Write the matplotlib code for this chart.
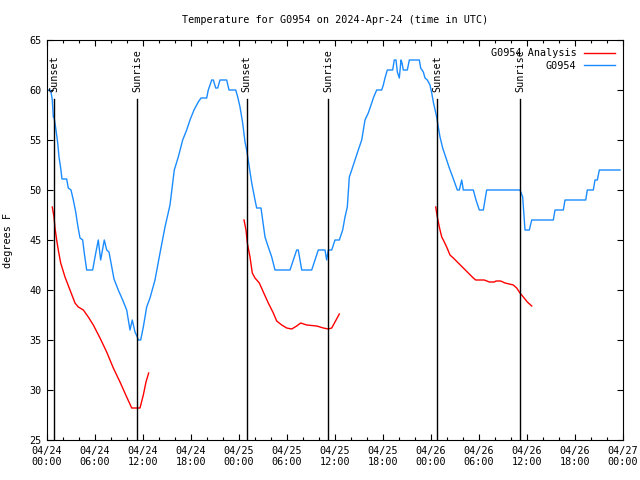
import numpy as np
import matplotlib
matplotlib.use('Agg')
import matplotlib.pyplot as plt

# hours since 2024-04-24 00:00 UTC
obs_hours = [0.0, 0.375, 0.5, 0.66, 0.79, 0.875, 1.125, 1.34, 1.5, 1.71, 1.875, 2.46, 2.66, 3.0,
             3.29, 3.59, 3.875, 4.125, 4.46, 4.66, 4.96, 5.71, 6.0, 6.41, 6.71, 7.16, 7.46, 7.75,
             8.09, 8.375, 8.91, 9.46, 9.96, 10.375, 10.66, 11.0, 11.29, 11.41, 11.71, 12.04, 12.46,
             12.875, 13.5, 14.125, 14.75, 15.375, 15.91, 16.41, 16.96, 17.46, 17.875, 18.375, 18.91,
             19.25, 19.96, 20.16, 20.59, 20.79, 21.09, 21.34, 21.625, 22.46, 22.75, 23.59, 23.84,
             24.125, 24.46, 24.75, 24.96, 25.25, 25.59, 26.0, 26.21, 26.75, 26.96, 27.25, 27.66,
             28.09, 28.5, 30.375, 30.79, 31.21, 31.41, 31.84, 33.09, 33.5, 33.91, 34.75, 34.96,
             35.16, 35.59, 36.0, 36.54, 36.96, 37.25, 37.54, 37.79, 38.09, 38.5, 38.91, 39.34,
             39.75, 40.16, 40.59, 40.79, 41.21, 41.84, 42.04, 42.25, 42.54, 43.21, 43.41, 43.625,
             43.79, 44.04, 44.25, 44.375, 44.54, 45.04, 45.29, 46.54, 46.71, 47.04, 47.25, 47.54,
             47.875, 48.09, 48.29, 48.71, 48.91, 49.125, 49.46, 49.875, 50.29, 50.71, 51.29, 51.54,
             51.84, 52.04, 53.29, 53.625, 54.04, 54.54, 54.96, 59.125, 59.46, 59.75, 60.29, 60.59,
             63.29, 63.5, 64.54, 64.75, 67.34, 67.54, 68.29, 68.5, 68.79, 69.04, 71.625]
obs_temp = [60, 60, 59.8, 59, 57.3, 57.3, 56, 54.7, 53.3, 52.2, 51.1, 51.1, 50.2, 50,
            49, 47.8, 46.3, 45.2, 45, 43.7, 42, 42, 43.3, 45, 43, 45, 44, 43.8,
            42.3, 41.1, 40, 39, 38, 36, 37, 35.8, 35.3, 35, 35, 36.3, 38.3,
            39.2, 41, 43.7, 46.3, 48.5, 52, 53.3, 55, 56, 57, 58, 58.8,
            59.2, 59.2, 60, 61, 61, 60.2, 60.2, 61, 61, 60, 60, 59.3,
            58.3, 56.7, 54.8, 54, 52.5, 50.7, 49, 48.2, 48.2, 47, 45.3, 44.3,
            43.3, 42, 42, 43, 44, 44, 42, 42, 43, 44, 44, 43,
            44, 44, 45, 45, 46, 47.3, 48.3, 51.3, 52, 53, 54, 55,
            57, 57.7, 58.7, 59.2, 60, 60, 60.5, 61.2, 62, 62, 63, 63,
            61.8, 61.2, 63, 62.7, 62, 62, 63, 63, 62.2, 61.8, 61.2, 61,
            60.5, 59.7, 58.8, 57.3, 56.3, 55.3, 54.2, 53.2, 52.2, 51.3, 50, 50,
            51, 50, 50, 49, 48, 48, 50, 50, 49.3, 46, 46, 47,
            47, 48, 48, 49, 49, 50, 50, 51, 51, 52, 52]

# analysis runs, one per night
ana_hours_1 = [0.66, 0.875, 1.0, 1.21, 1.41, 1.71, 2.25, 2.875, 3.5, 3.91, 4.54, 5.16, 5.79,
               6.625, 7.46, 8.29, 9.125, 9.96, 10.59, 11.625, 12.04, 12.375, 12.71]
ana_temp_1 = [48.3, 47.3, 46.2, 45, 44, 42.7, 41.3, 40, 38.7, 38.3, 38, 37.3, 36.5,
              35.2, 33.8, 32.2, 30.8, 29.3, 28.2, 28.2, 29.5, 30.8, 31.7]
ana_hours_2 = [24.625, 24.875, 25.04, 25.375, 25.66, 26.0, 26.54, 27.04, 27.66, 28.29, 28.71,
               29.34, 29.96, 30.59, 31.21, 31.71, 32.46, 33.71, 34.54, 35.16, 35.59, 36.0, 36.54]
ana_temp_2 = [47, 46, 44.7, 43.3, 41.7, 41.2, 40.7, 39.8, 38.7, 37.7, 36.9,
              36.5, 36.2, 36.1, 36.4, 36.7, 36.5, 36.4, 36.2, 36.1, 36.2, 36.8, 37.6]
ana_hours_3 = [48.59, 48.79, 49.04, 49.34, 49.54, 49.96, 50.375, 50.79, 51.41, 52.04, 52.66,
               53.29, 53.59, 54.66, 55.29, 55.91, 56.125, 56.71, 57.25, 57.79, 58.29, 58.71,
               59.125, 59.54, 60.04, 60.59]
ana_temp_3 = [48.3, 47.3, 46.3, 45.3, 45, 44.3, 43.5, 43.2, 42.7, 42.2, 41.7,
              41.2, 41, 41, 40.8, 40.8, 40.9, 40.9, 40.7, 40.6, 40.5, 40.2,
              39.7, 39.3, 38.8, 38.4]

sun_names = ['Sunset', 'Sunrise', 'Sunset', 'Sunrise', 'Sunset', 'Sunrise']
sun_hours = [0.91, 11.29, 24.94, 35.16, 48.79, 59.16]

tick_hours = np.arange(0, 73, 6)
tick_labels = ['04/24\n00:00', '04/24\n06:00', '04/24\n12:00', '04/24\n18:00',
               '04/25\n00:00', '04/25\n06:00', '04/25\n12:00', '04/25\n18:00',
               '04/26\n00:00', '04/26\n06:00', '04/26\n12:00', '04/26\n18:00',
               '04/27\n00:00']

plt.rcParams['font.family'] = ['DejaVu Sans Mono']
fs = 7.3

fig = plt.figure(figsize=(6.4, 4.8), dpi=100)
ax = fig.add_axes([47/640, 40/480, 576/640, 400/480])

red = '#ff0000'
blue = '#1a8cff'
ax.plot(ana_hours_1, ana_temp_1, color=red, lw=1, label='G0954 Analysis')
ax.plot(ana_hours_2, ana_temp_2, color=red, lw=1)
ax.plot(ana_hours_3, ana_temp_3, color=red, lw=1)
ax.plot(obs_hours, obs_temp, color=blue, lw=1, label='G0954')

for name, h in zip(sun_names, sun_hours):
    ax.plot([h, h], [25, 59.1], color='black', lw=1)
    ax.text(h, 59.8, name, rotation=90, ha='center', va='bottom', fontsize=fs)

ax.set_xlim(0, 72)
ax.set_ylim(25, 65)
ax.set_xticks(tick_hours)
ax.set_xticklabels(tick_labels, fontsize=fs)
ax.set_xticks(np.arange(0, 73, 2), minor=True)
ax.set_yticks(np.arange(25, 66, 5))
ax.tick_params(axis='y', labelsize=fs)
ax.tick_params(which='both', direction='in', top=True, right=True, width=0.8)
ax.tick_params(which='major', length=4.5, pad=4)
ax.tick_params(which='minor', length=2.5)
for s in ax.spines.values():
    s.set_linewidth(0.8)

ax.set_ylabel('degrees F', fontsize=fs, labelpad=12)
ax.set_title('Temperature for G0954 on 2024-Apr-24 (time in UTC)', fontsize=fs, pad=12)

ax.legend(loc='upper right', frameon=False, fontsize=fs, markerfirst=False,
          handlelength=3.0, handletextpad=0.8, labelspacing=0.25,
          borderaxespad=0.6, borderpad=0.2)

fig.savefig('out.png', dpi=100)
